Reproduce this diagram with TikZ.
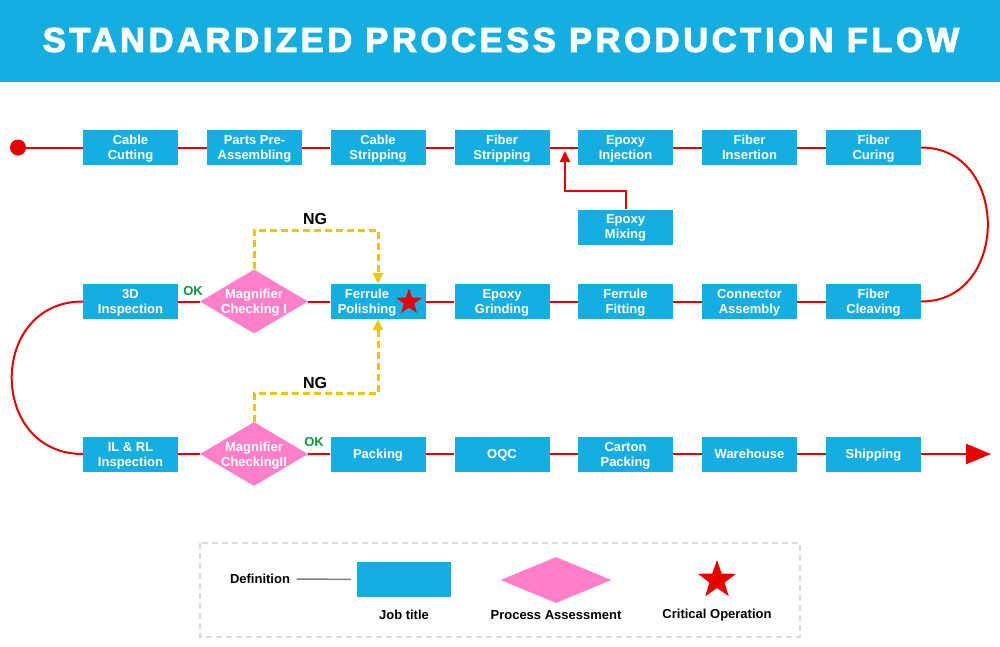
\documentclass[tikz,border=0pt]{standalone}
\usepackage{fontspec}
\setmainfont{Liberation Sans}
\newfontfamily\titlefont{Liberation Sans Bold}[LetterSpace=10.5, FakeBold=3]
\usetikzlibrary{shapes.geometric,arrows.meta}

\definecolor{jobblue}{RGB}{21,174,224}
\definecolor{checkpink}{RGB}{255,128,200}
\definecolor{flowred}{RGB}{230,0,0}
\definecolor{ngyellow}{RGB}{234,200,0}
\definecolor{okgreen}{RGB}{16,150,60}
\definecolor{framegray}{RGB}{218,218,218}

\tikzset{
	job/.style={rectangle, fill=jobblue, minimum width=95pt, minimum height=35pt, inner sep=0pt, text depth=0pt, text=white, align=center, font=\bfseries\fontsize{13}{15}\selectfont},
	jobtext/.style={inner sep=0pt, text depth=0pt, text=white, align=center, font=\bfseries\fontsize{13}{15}\selectfont},
	check/.style={diamond, fill=checkpink, aspect=1.7, minimum width=108pt, minimum height=64pt, inner sep=0pt, text depth=0pt, text=white, align=center, font=\bfseries\fontsize{13}{15}\selectfont},
	critical/.style={star, star points=5, star point ratio=2.5, fill=flowred, inner sep=0pt},
	flow/.style={draw=flowred, line width=2pt},
	ngflow/.style={draw=ngyellow, line width=3pt, dash pattern=on 7pt off 4pt, -{Triangle[length=11pt,width=10pt]}},
	oklabel/.style={text=okgreen, inner sep=0pt, font=\bfseries\fontsize{13}{15}\selectfont},
	nglabel/.style={inner sep=0pt, font=\bfseries\fontsize{16}{18}\selectfont},
	legendtext/.style={font=\bfseries\fontsize{13}{15}\selectfont},
}

\begin{document}
\begin{tikzpicture}[x=1pt, y=-1pt]
	\useasboundingbox (0,0) rectangle (1000,646);

	% title bar
	\fill[jobblue] (0,0) rectangle (1000,82);
	\node (TITLE)[text=white, inner sep=0pt, font=\titlefont\fontsize{34.5}{36}\selectfont] at (501,40){STANDARDIZED PROCESS PRODUCTION FLOW};

	\node (S)[circle, fill=flowred, minimum size=16pt, inner sep=0pt] at (18,147.5){};
	\node (CC)[job] at (130.5,147.5){Cable\\Cutting};
	\node (PA)[job] at (254.5,147.5){Parts Pre-\\Assembling};
	\node (CS)[job] at (378,147.5){Cable\\Stripping};
	\node (FS)[job] at (502,147.5){Fiber\\Stripping};
	\node (EI)[job] at (625.5,147.5){Epoxy\\Injection};
	\node (FI)[job] at (749.5,147.5){Fiber\\Insertion};
	\node (FC)[job] at (873.5,147.5){Fiber\\Curing};
	\node (EM)[job] at (625.5,227){Epoxy\\Mixing};
	\coordinate (EIin) at (565,151);

	\node (I3D)[job] at (130.5,301.5){3D\\Inspection};
	\node (MC1)[check] at (254,301.5){Magnifier\\Checking I};
	\node (FP)[job] at (378,301.5){};
	\node (FPtext)[jobtext] at (367,301.5){Ferrule\\Polishing};
	\node (EG)[job] at (502,301.5){Epoxy\\Grinding};
	\node (FF)[job] at (625.5,301.5){Ferrule\\Fitting};
	\node (CA)[job] at (749.5,301.5){Connector\\Assembly};
	\node (FV)[job] at (873.5,301.5){Fiber\\Cleaving};

	\node (ILRL)[job] at (130.5,454){IL \& RL\\Inspection};
	\node (MC2)[check] at (254,454){Magnifier\\CheckingII};
	\node (PK)[job] at (378,454){Packing};
	\node (OQC)[job] at (502,454){OQC};
	\node (CP)[job] at (625.5,454){Carton\\Packing};
	\node (WH)[job] at (749.5,454){Warehouse};
	\node (SH)[job] at (873.5,454){Shipping};
	\coordinate (END) at (991,454);

	\draw[flow] (S) -- (CC) -- (PA) -- (CS) -- (FS) -- (EI) -- (FI) -- (FC);
	\draw[flow, -{Triangle[length=11pt,width=10pt]}] (EM.north) -- ++(0,-18) -| (EIin);
	\draw[flow] (FC.east) .. controls (1010,147.5) and (1010,301.5) .. (FV.east);
	\draw[flow] (FV) -- (CA) -- (FF) -- (EG) -- (FP) -- (MC1) -- (I3D);
	\draw[flow] (I3D.west) .. controls (-12,301.5) and (-12,454) .. (ILRL.west);
	\draw[flow] (ILRL) -- (MC2) -- (PK) -- (OQC) -- (CP) -- (WH) -- (SH);
	\draw[flow, -{Triangle[length=25pt,width=20pt]}] (SH) -- (END);

	\node (FPstar)[critical, minimum size=27pt] at (409,302){};

	\draw[ngflow] (MC1.north) -- ++(0,-39) -| (FP.north);
	\draw[ngflow] (MC2.north) -- ++(0,-28) -| (FP.south);

	\node (OK1)[oklabel] at (193,291){OK};
	\node (OK2)[oklabel] at (314,442){OK};
	\node (NG1)[nglabel] at (315,219){NG};
	\node (NG2)[nglabel] at (315,382.5){NG};

	% legend
	\draw[draw=framegray, line width=1.5pt, dash pattern=on 6pt off 4pt] (200,543) rectangle (800,637);
	\node (DEF)[legendtext] at (260,579){Definition};
	\node (LJ)[job, minimum width=94pt] at (404,579.5){};
	\draw[draw=gray, line width=1.5pt, shorten <=3pt, shorten >=6pt] (DEF) -- (LJ);
	\node (LC)[check, aspect=2.4, minimum width=111pt, minimum height=46pt] at (556,580){};
	\node (LS)[critical, minimum size=40pt] at (717,580){};
	\node (LJt)[legendtext] at (404,615){Job title};
	\node (LCt)[legendtext] at (556,615){Process Assessment};
	\node (LSt)[legendtext] at (717,615){Critical Operation};

\end{tikzpicture}
\end{document}
